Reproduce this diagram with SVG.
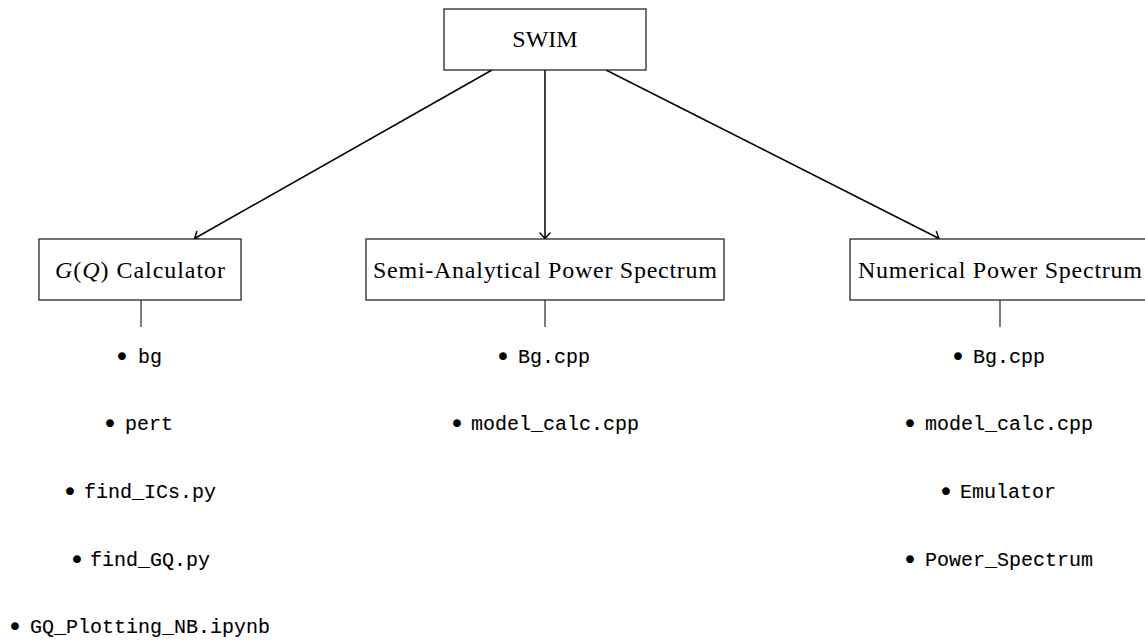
<svg xmlns="http://www.w3.org/2000/svg" width="1145" height="641" viewBox="0 0 1145 641">
  <style>
    .box { fill: #ffffff; stroke: #262626; stroke-width: 1.3; }
    .lbl { font-family: "Liberation Serif", "Times New Roman", serif; font-size: 24px; fill: #000; text-anchor: middle; }
    .edge { fill: none; stroke: #000; stroke-width: 1.5; }
    .stub { fill: none; stroke: #262626; stroke-width: 1.2; }
    .bul { font-family: "DejaVu Sans", sans-serif; font-size: 27px; fill: #000; text-anchor: middle; }
    .file { font-family: "Liberation Mono", "Courier New", monospace; font-size: 20px; fill: #000; stroke: #000; stroke-width: 0.1; }
  </style>
  <defs>
    <marker id="to" viewBox="-7 -7 9 14" markerWidth="9" markerHeight="14" refX="0" refY="0" orient="auto" markerUnits="userSpaceOnUse">
      <path d="M -5.5,-5 Q -1.6,-1.3 0,0 Q -1.6,1.3 -5.5,5" fill="none" stroke="#000" stroke-width="1.4" stroke-linecap="round"/>
    </marker>
  </defs>
  <rect width="1145" height="641" fill="#ffffff"/>

  <!-- connectors -->
  <g id="connectors">
    <line class="edge" x1="492" y1="70" x2="194.5" y2="238.5" marker-end="url(#to)"/>
    <line class="edge" x1="545" y1="70" x2="545" y2="238.5" marker-end="url(#to)"/>
    <line class="edge" x1="606" y1="70" x2="939" y2="238.5" marker-end="url(#to)"/>
    <line class="stub" x1="141" y1="300" x2="141" y2="327"/>
    <line class="stub" x1="545" y1="300" x2="545" y2="327"/>
    <line class="stub" x1="1000" y1="300" x2="1000" y2="327"/>
  </g>

  <!-- root -->
  <g id="swim">
    <rect class="box" x="444" y="9" width="202" height="61"/>
    <text class="lbl" x="545" y="47">SWIM</text>
  </g>

  <!-- G(Q) calculator -->
  <g id="gq-calculator">
    <rect class="box" x="39" y="239" width="202" height="61"/>
    <text class="lbl" x="140" y="278" textLength="170" lengthAdjust="spacing"><tspan font-style="italic">G</tspan>(<tspan font-style="italic">Q</tspan>) Calculator</text>
  </g>

  <!-- semi-analytical power spectrum -->
  <g id="semi-analytical">
    <rect class="box" x="366" y="239" width="358" height="61"/>
    <text class="lbl" x="545" y="278" textLength="344" lengthAdjust="spacing">Semi-Analytical Power Spectrum</text>
  </g>

  <!-- numerical power spectrum -->
  <g id="numerical">
    <rect class="box" x="850" y="239" width="310" height="61"/>
    <text class="lbl" x="1000" y="278" textLength="284" lengthAdjust="spacing">Numerical Power Spectrum</text>
  </g>

  <!-- G(Q) calculator files -->
  <g id="gq-files">
    <text class="bul" x="122" y="366">•</text><text class="file" x="138" y="363">bg</text>
    <text class="bul" x="110" y="433">•</text><text class="file" x="125" y="430">pert</text>
    <text class="bul" x="70" y="501">•</text><text class="file" x="84" y="498">find_ICs.py</text>
    <text class="bul" x="77" y="569">•</text><text class="file" x="90" y="566">find_GQ.py</text>
    <text class="bul" x="15" y="636">•</text><text class="file" x="30" y="633">GQ_Plotting_NB.ipynb</text>
  </g>

  <!-- semi-analytical files -->
  <g id="semi-files">
    <text class="bul" x="503" y="366">•</text><text class="file" x="518" y="363">Bg.cpp</text>
    <text class="bul" x="457" y="433">•</text><text class="file" x="471" y="430">model_calc.cpp</text>
  </g>

  <!-- numerical files -->
  <g id="numerical-files">
    <text class="bul" x="958" y="366">•</text><text class="file" x="973" y="363">Bg.cpp</text>
    <text class="bul" x="910" y="433">•</text><text class="file" x="925" y="430">model_calc.cpp</text>
    <text class="bul" x="946" y="501">•</text><text class="file" x="960" y="498">Emulator</text>
    <text class="bul" x="910" y="569">•</text><text class="file" x="925" y="566">Power_Spectrum</text>
  </g>
</svg>
